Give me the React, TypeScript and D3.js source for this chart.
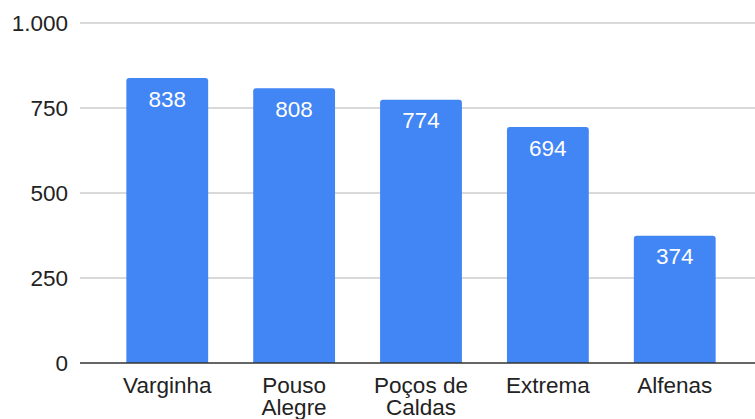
import { useEffect, useRef } from "react";
import * as d3 from "d3";

const cities = ["Varginha", "Pouso Alegre", "Poços de Caldas", "Extrema", "Alfenas"];
const cityLines = [["Varginha"], ["Pouso", "Alegre"], ["Poços de", "Caldas"], ["Extrema"], ["Alfenas"]];
const totals = [838, 808, 774, 694, 374];
const yTicks = [0, 250, 500, 750, 1000];

export default function App() {
  const svgRef = useRef<SVGSVGElement>(null);

  useEffect(() => {
    if (!svgRef.current) return;
    const width = 755;
    const height = 419;
    const svg = d3.select(svgRef.current);
    svg.selectAll("*").remove();

    const font = "'Liberation Sans', Arial, sans-serif";
    const fs = 22.5;
    const x = d3.scaleBand<string>().domain(cities).range([103.5, 738.5]).paddingInner(0.355).paddingOuter(0.18);
    const y = d3.scaleLinear().domain([0, 1000]).range([363, 23]);
    const fmt = (v: number) => d3.format(",")(v).replace(/,/g, ".");

    // grid
    svg.append("g")
      .selectAll("line")
      .data(yTicks.filter((t) => t > 0))
      .enter()
      .append("line")
      .attr("x1", 80)
      .attr("x2", width)
      .attr("y1", (d) => y(d))
      .attr("y2", (d) => y(d))
      .attr("stroke", "#cccccc")
      .attr("stroke-width", 1.3);

    svg.append("g")
      .selectAll("text")
      .data(yTicks)
      .enter()
      .append("text")
      .attr("x", 68)
      .attr("y", (d) => y(d) + 8)
      .attr("text-anchor", "end")
      .attr("font-family", font)
      .attr("font-size", fs)
      .attr("fill", "#222")
      .text((d) => fmt(d));

    const r = 3;
    const bw = x.bandwidth();
    svg.append("g")
      .selectAll("path")
      .data(totals)
      .enter()
      .append("path")
      .attr("fill", "#4285f4")
      .attr("d", (d, i) => {
        const x0 = x(cities[i])!;
        const y0 = y(d);
        const yb = y(0);
        return `M${x0},${yb}V${y0 + r}Q${x0},${y0} ${x0 + r},${y0}H${x0 + bw - r}Q${x0 + bw},${y0} ${x0 + bw},${y0 + r}V${yb}Z`;
      });

    svg.append("g")
      .selectAll("text")
      .data(totals)
      .enter()
      .append("text")
      .attr("x", (_, i) => x(cities[i])! + bw / 2)
      .attr("y", (d) => y(d) + 28.5)
      .attr("text-anchor", "middle")
      .attr("font-family", font)
      .attr("font-size", fs)
      .attr("fill", "#ffffff")
      .text((d) => d);

    // baseline
    svg.append("line")
      .attr("x1", 80)
      .attr("x2", width)
      .attr("y1", y(0))
      .attr("y2", y(0))
      .attr("stroke", "#333")
      .attr("stroke-width", 1.3);

    const labels = svg.append("g")
      .selectAll("text")
      .data(cityLines)
      .enter()
      .append("text")
      .attr("text-anchor", "middle")
      .attr("font-family", font)
      .attr("font-size", fs)
      .attr("fill", "#222");
    labels.each(function (lines, i) {
      const t = d3.select(this);
      lines.forEach((ln, j) => {
        t.append("tspan")
          .attr("x", x(cities[i])! + bw / 2)
          .attr("y", 393 + j * 22)
          .text(ln);
      });
    });

    svg.attr("width", width).attr("height", height);
  }, []);

  return (
    <div style={{ position: "absolute", left: 0, top: 0, background: "#fff" }}>
      <svg ref={svgRef} width={755} height={419} style={{ display: "block" }} />
    </div>
  );
}
